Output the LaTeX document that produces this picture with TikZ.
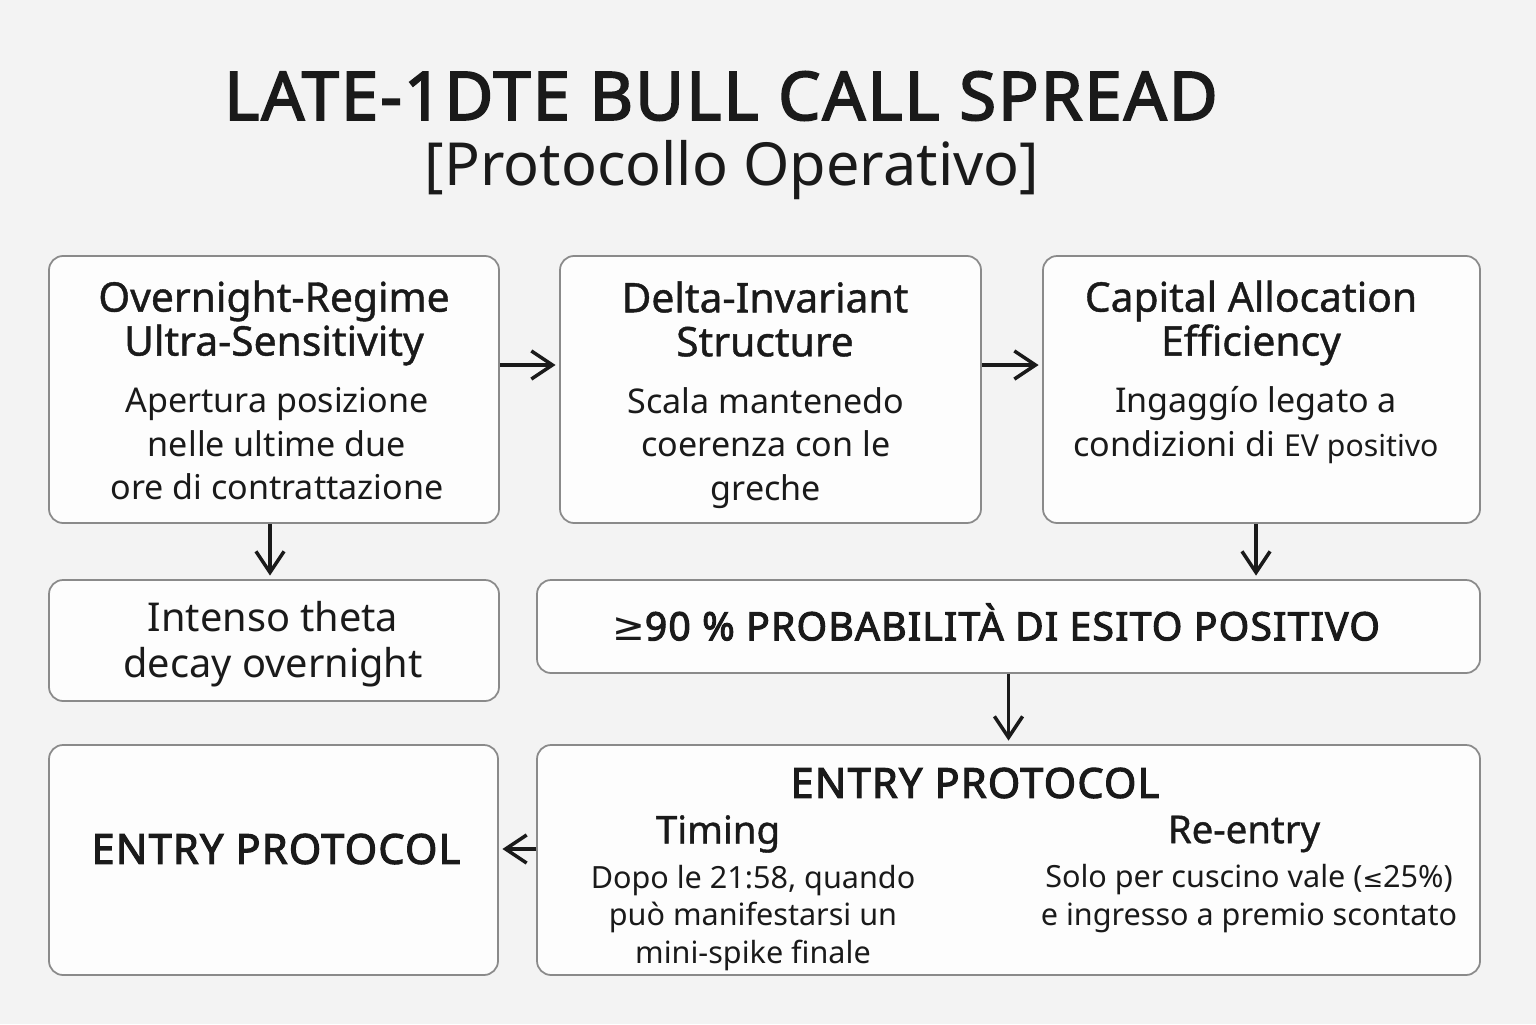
\documentclass[tikz,border=0pt]{standalone}
\usepackage{fontspec}
\setmainfont{Noto Sans}
\newfontfamily\headfont[FakeBold=1]{Noto Sans}
\newfontfamily\heavyfont[FakeBold=2.6,LetterSpace=3]{Noto Sans}
\newfontfamily\symfont{DejaVu Sans}
\usetikzlibrary{arrows.meta}
\definecolor{bgcol}{HTML}{F3F3F3}
\definecolor{boxcol}{HTML}{FDFDFD}
\definecolor{edgecol}{HTML}{8A8A8A}
\definecolor{inkcol}{HTML}{1A1A1A}

\begin{document}
\begin{tikzpicture}[shorten >=1pt,
  card/.style={draw=edgecol, fill=boxcol, line width=0.5pt, rounded corners=4pt, inner sep=0pt},
  head/.style={font=\headfont\fontsize{11.6}{12.5}\selectfont, align=center, text=inkcol},
  body/.style={font=\fontsize{9.7}{12.4}\selectfont, align=center, text=inkcol},
  small/.style={font=\fontsize{8.7}{10.8}\selectfont, align=center, text=inkcol},
  big/.style={font=\heavyfont\fontsize{11.8}{13}\selectfont, text=inkcol},
  flow/.style={-{Straight Barb[length=6pt,width=8pt]}, line width=1pt, color=inkcol}]
\fill[bgcol] (0,0) rectangle (15.36,10.24);
\useasboundingbox (0,0) rectangle (15.36,10.24);

\node[font=\heavyfont\fontsize{19.1}{20}\selectfont, text=inkcol] (T) at (7.21,9.28) {LATE-1DTE BULL CALL SPREAD};
\node[font=\fontsize{16.9}{18}\selectfont, text=inkcol]          (S) at (7.32,8.54) {[Protocollo Operativo]};

% top row
\node[card, minimum width=4.50cm, minimum height=2.67cm] (A) at (2.74,6.345)  {};
\node[card, minimum width=4.21cm, minimum height=2.67cm] (B) at (7.705,6.345) {};
\node[card, minimum width=4.37cm, minimum height=2.67cm] (C) at (12.615,6.345) {};
\node[head] (Ah) at (2.74,7.01)  {Overnight-Regime\\Ultra-Sensitivity};
\node[body] (Ab) at (2.77,5.80)  {Apertura posizione\\nelle ultime due\\ore di contrattazione};
\node[head] (Bh) at (7.65,7.05)  {Delta-Invariant\\Structure};
\node[body] (Bb) at (7.66,5.76)  {Scala mantenedo\\coerenza con le\\greche};
\node[head] (Ch) at (12.51,7.01) {Capital Allocation\\Efficiency};
\node[body] (Cb) at (12.56,5.99) {Ingaggío legato a\\condizioni di {\fontsize{8.6}{10}\selectfont EV positivo}};

% middle row
\node[card, minimum width=4.50cm, minimum height=1.21cm] (D) at (2.74,3.835)  {};
\node[card, minimum width=9.43cm, minimum height=0.93cm] (E) at (10.085,3.975) {};
\node[body, font=\fontsize{11.3}{13}\selectfont] (Dt) at (2.73,3.80) {Intenso theta\\decay overnight};
\node[big, font=\heavyfont\fontsize{11.15}{12}\selectfont] (Et) at (9.96,4.02) {{\symfont ≥}90 \% PROBABILITÀ DI ESITO POSITIVO};

% bottom row
\node[card, minimum width=4.49cm, minimum height=2.30cm] (F) at (2.735,1.64)  {};
\node[card, minimum width=9.43cm, minimum height=2.30cm] (G) at (10.085,1.64) {};
\node[big] (Ft) at (2.76,1.75) {ENTRY PROTOCOL};
\node[big] (Gt) at (9.75,2.41) {ENTRY PROTOCOL};
\node[head, font=\headfont\fontsize{10.9}{12}\selectfont] (Gl) at (7.18,1.90)  {Timing};
\node[head, font=\headfont\fontsize{10.9}{12}\selectfont] (Gr) at (12.44,1.90) {Re-entry};
\node[small] (Glb) at (7.53,1.06)  {Dopo le 21:58, quando\\può manifestarsi un\\mini-spike finale};
\node[small] (Grb) at (12.49,1.25) {Solo per cuscino vale ({\symfont\fontsize{7}{9}\selectfont ≤}25\%)\\e ingresso a premio scontato};

% connectors
\path[flow]
  ([yshift=.245cm]A.east) edge ([yshift=.245cm]B.west)
  ([yshift=.245cm]B.east) edge ([yshift=.245cm]C.west)
  ([xshift=-.04cm]A.south) edge ([xshift=-.04cm]D.north)
  ([xshift=-.055cm]C.south) edge ([xshift=-.055cm]C.south |- E.north)
  (E.south) edge (G.north)
  (G.west |- Ft) edge (F.east |- Ft);
\end{tikzpicture}
\end{document}
